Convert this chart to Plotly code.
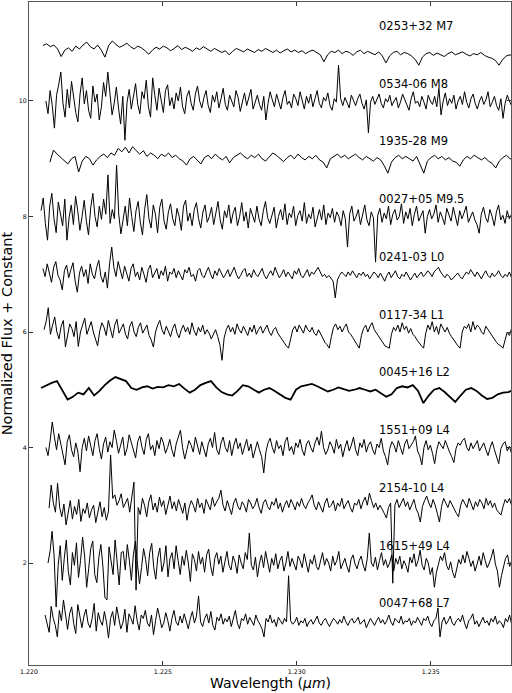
import numpy as np
import plotly.graph_objects as go

# spectra: normalized flux in percent, plotted as flux + constant
names = ['0253+32 M7', '0534-06 M8', '1935-28 M9', '0027+05 M9.5', '0241-03 L0', '0117-34 L1',
         '0045+16 L2', '1551+09 L4', '2154-10 L4', '1615+49 L4', '0047+68 L7']
consts = [10, 9, 8, 7, 6, 5, 4, 3, 2, 1, 0]
wl_start = [1.22052, 1.22063, 1.22078, 1.22045, 1.22052, 1.22056, 1.22045, 1.22063, 1.22075, 1.22071, 1.22060]
wl_end = 1.2381

f0253 = [96, 99, 94, 97, 90, 77, 88, 92, 86, 95, 90, 97, 102, 94, 90, 97, 88, 76, 96, 104,
         98, 93, 96, 100, 94, 90, 95, 92, 87, 81, 88, 93, 90, 95, 92, 87, 91, 96, 89, 93,
         90, 86, 92, 89, 94, 90, 86, 91, 88, 84, 87, 80, 86, 91, 88, 85, 90, 87, 84, 89,
         86, 91, 88, 84, 88, 83, 87, 90, 85, 88, 84, 87, 82, 86, 88, 84, 80, 68, 80, 86,
         84, 88, 82, 86, 84, 79, 85, 88, 82, 86, 83, 80, 85, 78, 66, 78, 84, 86, 80, 84,
         82, 78, 72, 62, 76, 82, 84, 79, 83, 80, 77, 82, 85, 80, 83, 85, 81, 78, 82, 80,
         84, 79, 76, 74, 70, 62, 72, 78, 80, 76]
f0534 = [100, 78, 118, 92, 53, 110, 128, 150, 96, 72, 120, 88, 134, 102, 80, 64, 112, 140, 95, 118,
         84, 70, 126, 98, 112, 67, 90, 132, 108, 150, 118, 76, 96, 124, 88, 60, 108, 32, 98, 120,
         86, 112, 130, 94, 78, 116, 104, 136, 90, 72, 140, 110, 84, 122, 98, 80, 118, 128, 92, 106,
         86, 114, 100, 124, 90, 78, 108, 118, 96, 84, 112, 126, 100, 88, 106, 118, 92, 80, 110, 98,
         116, 88, 104, 122, 94, 84, 110, 100, 90, 118, 106, 82, 98, 114, 92, 104, 120, 86, 100, 110,
         94, 84, 108, 67, 96, 116, 102, 90, 112, 98, 86, 106, 118, 94, 100, 88, 112, 104, 92, 116,
         100, 86, 108, 96, 112, 90, 104, 118, 96, 88, 106, 100, 114, 92, 84, 104, 98, 162, 104, 92,
         106, 96, 88, 110, 100, 92, 104, 112, 96, 86, 102, 45, 98, 108, 94, 102, 112, 96, 88, 104,
         98, 110, 92, 100, 106, 88, 98, 112, 102, 94, 84, 104, 116, 96, 100, 90, 108, 98, 86, 110,
         100, 94, 108, 90, 122, 76, 100, 114, 92, 104, 96, 110, 86, 100, 108, 94, 116, 98, 88, 104,
         112, 96, 86, 100, 108, 94, 102, 116, 90, 98, 108, 92, 84, 104, 70, 96, 110, 100, 92, 102]
f1935 = [94, 115, 108, 102, 97, 91, 100, 104, 77, 96, 104, 100, 89, 98, 104, 108, 102, 110, 106, 118,
         112, 120, 110, 121, 114, 108, 114, 104, 110, 106, 100, 108, 104, 110, 102, 106, 100, 96, 89, 100,
         104, 98, 91, 102, 106, 100, 108, 102, 98, 104, 93, 102, 106, 110, 104, 100, 106, 102, 108, 100,
         96, 104, 110, 106, 100, 95, 102, 106, 100, 108, 102, 98, 104, 100, 106, 98, 94, 84, 100, 104,
         108, 102, 106, 100, 104, 108, 102, 98, 104, 100, 96, 102, 98, 88, 75, 94, 102, 106, 100, 104,
         100, 96, 104, 90, 75, 96, 102, 106, 100, 104, 98, 102, 96, 94, 87, 98, 104, 100, 106, 102,
         98, 102, 96, 92, 84, 96, 102, 106, 100, 98]
f0027 = [110, 132, 88, 59, 118, 140, 96, 72, 125, 104, 84, 130, 59, 98, 120, 86, 135, 110, 76, 100,
         128, 92, 68, 115, 140, 100, 82, 118, 95, 130, 104, 172, 88, 112, 96, 189, 104, 70, 92, 118,
         84, 132, 100, 74, 110, 126, 90, 68, 112, 138, 96, 80, 120, 104, 72, 116, 130, 92, 78, 108,
         122, 96, 84, 114, 100, 76, 118, 128, 92, 106, 84, 112, 124, 96, 80, 108, 120, 90, 100, 116,
         86, 104, 126, 94, 78, 110, 98, 120, 88, 106, 116, 84, 100, 124, 92, 108, 80, 114, 100, 90,
         118, 96, 84, 110, 126, 98, 88, 104, 116, 80, 100, 112, 94, 122, 86, 106, 98, 118, 84, 102,
         110, 92, 124, 88, 104, 96, 116, 82, 100, 112, 94, 120, 86, 106, 98, 114, 90, 108, 100, 84,
         110, 96, 47, 104, 118, 92, 100, 112, 86, 106, 120, 94, 84, 108, 98, 21, 102, 114, 90, 106,
         96, 118, 86, 104, 112, 94, 100, 122, 88, 108, 96, 114, 84, 104, 118, 92, 102, 110, 71, 100,
         112, 96, 104, 120, 90, 108, 98, 86, 114, 102, 92, 116, 100, 84, 110, 96, 106, 118, 90, 100,
         108, 94, 86, 71, 104, 116, 98, 90, 112, 100, 84, 108, 120, 94, 102, 88, 110, 96, 104, 112]
f0241 = [110, 96, 118, 104, 86, 112, 122, 98, 90, 73, 106, 116, 94, 108, 120, 88, 69, 102, 114, 96,
         108, 84, 118, 100, 92, 112, 124, 96, 86, 104, 76, 118, 147, 112, 96, 122, 104, 92, 114, 100,
         88, 110, 118, 96, 104, 90, 112, 100, 86, 108, 116, 94, 102, 110, 92, 106, 98, 114, 88, 104,
         100, 110, 94, 106, 98, 90, 108, 102, 112, 96, 100, 88, 106, 110, 98, 94, 104, 112, 100, 92,
         106, 98, 110, 102, 94, 100, 108, 96, 104, 112, 100, 92, 98, 106, 110, 96, 102, 94, 108, 100,
         96, 104, 110, 98, 92, 100, 106, 98, 112, 102, 94, 100, 108, 96, 104, 98, 92, 106, 100, 110,
         98, 94, 102, 108, 96, 104, 100, 106, 112, 104, 96, 100, 94, 98, 92, 88, 59, 90, 98, 104,
         100, 96, 104, 98, 106, 100, 94, 102, 98, 104, 96, 100, 92, 98, 104, 100, 94, 102, 96, 88,
         98, 104, 94, 100, 106, 96, 92, 100, 96, 104, 98, 90, 96, 102, 94, 100, 104, 96, 100, 106,
         102, 96, 104, 108, 112, 104, 98, 94, 100, 96, 90, 94, 98, 102, 96, 92, 98, 104, 100, 108,
         102, 96, 104, 98, 92, 100, 106, 98, 94, 102, 96, 100, 106, 98, 94, 100, 96, 104, 94, 98]
f0117 = [104, 118, 142, 96, 112, 126, 100, 88, 110, 120, 74, 98, 114, 106, 92, 118, 75, 100, 112, 124,
         96, 108, 118, 100, 86, 76, 102, 116, 108, 94, 120, 104, 90, 112, 122, 98, 106, 114, 96, 88,
         110, 118, 100, 92, 108, 116, 98, 104, 112, 94, 86, 74, 100, 112, 120, 104, 96, 110, 100, 92,
         106, 114, 98, 90, 104, 112, 100, 108, 96, 116, 102, 94, 108, 100, 112, 96, 104, 98, 88, 96,
         104, 92, 78, 51, 90, 104, 112, 100, 108, 96, 114, 104, 98, 110, 102, 94, 108, 100, 112, 96,
         104, 110, 98, 106, 112, 100, 94, 104, 108, 98, 92, 86, 80, 76, 72, 90, 104, 110, 100, 112,
         106, 98, 112, 104, 100, 108, 98, 94, 104, 96, 88, 82, 78, 72, 92, 108, 114, 104, 110, 100,
         108, 114, 100, 96, 90, 84, 78, 72, 94, 106, 112, 100, 110, 116, 104, 98, 92, 86, 80, 76,
         74, 72, 96, 108, 102, 112, 100, 116, 104, 110, 98, 106, 96, 92, 86, 80, 76, 72, 98, 112,
         104, 118, 100, 110, 96, 114, 106, 100, 108, 98, 92, 86, 80, 76, 72, 100, 110, 106, 114, 100,
         118, 104, 112, 108, 100, 96, 110, 104, 98, 92, 86, 82, 78, 76, 72, 88, 100, 94, 106, 98]
f0045 = [103, 108, 112, 115, 100, 83, 88, 95, 92, 103, 90, 98, 108, 116, 122, 118, 115, 103, 100, 104,
         106, 102, 105, 104, 108, 106, 110, 102, 95, 100, 108, 112, 115, 104, 96, 92, 90, 98, 108, 106,
         100, 95, 100, 103, 98, 92, 86, 83, 100, 106, 108, 110, 106, 102, 97, 100, 104, 101, 98, 100,
         103, 100, 97, 100, 94, 88, 92, 103, 106, 104, 108, 98, 77, 90, 100, 103, 96, 88, 79, 90,
         100, 103, 98, 90, 84, 86, 92, 95, 96, 100]
f1551 = [100, 86, 112, 144, 118, 96, 124, 104, 88, 70, 110, 122, 96, 84, 108, 92, 58, 100, 116, 94,
         120, 104, 86, 112, 124, 98, 80, 106, 118, 92, 110, 100, 130, 112, 90, 104, 118, 86, 98, 122,
         108, 94, 82, 110, 120, 100, 88, 114, 124, 96, 104, 86, 112, 98, 118, 108, 90, 100, 114, 96,
         84, 106, 118, 130, 100, 80, 96, 112, 104, 92, 118, 100, 88, 110, 98, 84, 106, 116, 100, 126,
         96, 88, 108, 118, 100, 92, 112, 86, 104, 116, 98, 108, 88, 100, 114, 94, 106, 82, 98, 110,
         96, 84, 56, 92, 108, 116, 100, 90, 112, 98, 104, 86, 110, 118, 94, 102, 88, 108, 100, 114,
         96, 86, 106, 112, 100, 92, 108, 118, 104, 128, 100, 88, 96, 110, 102, 90, 114, 98, 106, 84,
         100, 112, 94, 104, 118, 96, 86, 108, 100, 114, 92, 104, 110, 96, 88, 106, 100, 116, 94, 84,
         70, 98, 110, 104, 92, 112, 100, 88, 106, 114, 98, 104, 110, 120, 94, 86, 70, 100, 112, 96,
         104, 90, 72, 96, 110, 104, 98, 112, 100, 92, 84, 74, 98, 108, 104, 112, 116, 100, 94, 108,
         98, 104, 112, 94, 100, 108, 96, 86, 100, 110, 96, 84, 72, 98, 106, 110, 94, 102, 90, 100]
f2154 = [95, 135, 104, 88, 138, 96, 80, 102, 66, 90, 108, 76, 98, 84, 110, 72, 94, 86, 104, 78,
         92, 100, 70, 88, 106, 80, 96, 74, 90, 187, 112, 118, 100, 108, 120, 96, 104, 112, 88, 118,
         140, -47, 96, 84, 112, 100, 80, 106, 118, 92, 104, 88, 114, 98, 108, 84, 100, 116, 94, 106,
         90, 110, 98, 86, 104, 74, 96, 108, 100, 88, 112, 96, 104, 86, 110, 100, 92, 114, 98, 106,
         112, 126, 100, 90, 108, 96, 84, 104, 112, 98, 92, 106, 100, 88, 110, 104, 94, 100, 112, 96,
         86, 104, 110, 98, 92, 106, 100, 112, 94, 104, 88, 100, 108, 96, 110, 102, 92, 106, 98, 112,
         100, 94, 104, 110, 118, 100, 92, 106, 98, 88, 104, 112, 96, 100, 108, 90, 104, 98, 112, 94,
         102, 108, 96, 88, 104, 100, 110, 94, 106, 114, 100, 121, 108, 96, 104, 92, 100, 94, 86, 78,
         96, 104, -35, 100, 110, 96, 104, 112, 98, 106, 92, 100, 110, 94, 86, 71, 98, 108, 116, 104,
         96, 110, 100, 86, 71, 98, 112, 104, 96, 108, 100, 92, 86, 80, 100, 110, 104, 96, 112, 100,
         92, 106, 98, 110, 104, 94, 112, 100, 108, 96, 104, 92, 88, 83, 98, 110, 104, 112, 100, 108]
f1615 = [100, 120, 155, 112, 24, 96, 130, 70, 108, 140, 85, 62, 118, 96, 135, 75, 104, 145, 112, 58,
         90, 125, 138, 80, 66, 110, 132, 94, 40, 36, 128, 106, 80, 140, 95, 62, 118, 120, 88, 132,
         104, 70, 115, 138, 98, 64, 92, 125, 106, 78, 118, 134, 92, 72, 110, 126, 85, 100, 130, 76,
         108, 118, 90, 130, 104, 80, 112, 96, 122, 100, 68, 116, 106, 86, 120, 98, 110, 84, 114, 124,
         94, 78, 108, 118, 98, 112, 84, 104, 120, 96, 88, 112, 102, 82, 114, 100, 90, 118, 106, 152,
         96, 88, 110, 76, 100, 114, 92, 120, 100, 84, 108, 96, 116, 90, 104, 112, 86, 100, 120, 94,
         108, 98, 88, 112, 104, 92, 116, 100, 84, 106, 98, 114, 94, 88, 104, 118, 96, 108, 100, 86,
         112, 96, 104, 120, 90, 100, 108, 94, 84, 106, 114, 98, 90, 104, 112, 96, 86, 108, 152, 100,
         94, 110, 88, 104, 118, 96, 106, 92, 100, 114, 86, 108, 98, 112, 90, 104, 96, 84, 110, 100,
         116, 94, 104, 122, 96, 88, 108, 100, 80, 92, 58, 84, 98, 112, 104, 118, 96, 88, 102, 84,
         74, 92, 106, 98, 114, 100, 120, 108, 94, 104, 86, 98, 112, 96, 118, 104, 92, 100, 110, 124,
         98, 86, 58, 78, 96, 108, 114, 94, 104, 118]
f0047 = [110, 92, 80, 125, 104, 92, 72, 118, 100, 136, 108, 85, 112, 124, 95, 78, 128, 104, 88, 108,
         120, 96, 88, 104, 130, 82, 114, 100, 92, 116, 98, 70, 104, 116, 92, 124, 108, 86, 96, 120,
         80, 112, 104, 94, 126, 100, 84, 110, 104, 118, 96, 90, 110, 76, 100, 122, 106, 88, 96, 114,
         100, 82, 104, 118, 98, 92, 108, 96, 112, 100, 86, 104, 116, 96, 108, 143, 98, 90, 104, 112,
         96, 116, 92, 84, 106, 100, 112, 94, 104, 98, 108, 90, 102, 118, 96, 86, 104, 100, 112, 94,
         106, 98, 92, 110, 100, 94, 86, 72, 104, 98, 110, 96, 102, 90, 106, 100, 94, 104, 98, 178,
         100, 94, 98, 106, 92, 100, 96, 104, 90, 98, 102, 94, 100, 108, 96, 92, 100, 104, 96, 90,
         98, 104, 100, 94, 102, 96, 108, 98, 92, 100, 104, 96, 100, 106, 94, 98, 102, 88, 96, 104,
         98, 92, 100, 106, 96, 102, 94, 100, 110, 98, 92, 104, 100, 96, 108, 94, 100, 98, 104, 92,
         100, 96, 106, 98, 92, 104, 100, 108, 96, 90, 100, 104, 122, 72, 98, 106, 94, 100, 108, 96,
         92, 100, 104, 98, 110, 96, 86, 100, 104, 112, 94, 100, 90, 98, 106, 96, 100, 92, 104, 98,
         108, 94, 100, 96, 88, 104, 98, 110, 94, 100]
fluxes = [f0253, f0534, f1935, f0027, f0241, f0117, f0045, f1551, f2154, f1615, f0047]

fig = go.Figure()
for name, c, w0, f in zip(names, consts, wl_start, fluxes):
    wl = np.linspace(w0, wl_end, len(f))
    lw = 1.8 if name == '0045+16 L2' else 1.0
    fig.add_trace(go.Scatter(x=wl, y=np.array(f) / 100 + c, mode='lines', name=name,
                             line=dict(color='black', width=lw), showlegend=False))
    fig.add_annotation(x=1.233, y=c + 1.3, text=name, showarrow=False, xanchor='left', yanchor='middle',
                       font=dict(family='DejaVu Sans', size=11.5, color='black'))

ax = dict(showgrid=False, zeroline=False, showline=True, linecolor='#555', linewidth=1, mirror='ticks',
          ticks='inside', ticklen=4, tickcolor='#333', tickfont=dict(family='DejaVu Sans', size=6.3, color='black'))
fig.update_layout(
    width=512, height=693, margin=dict(l=29, r=1, t=2, b=28),
    paper_bgcolor='white', plot_bgcolor='white',
    xaxis=dict(range=[1.220, 1.238], tickvals=[1.220, 1.225, 1.230, 1.235], tickformat='.3f', **ax),
    yaxis=dict(range=[0.234, 11.714], tickvals=[2, 4, 6, 8, 10], **ax),
)
fig.add_annotation(x=0.5, y=-0.027, xref='paper', yref='paper', text='Wavelength (<i>μm</i>)', showarrow=False,
                   yanchor='middle', font=dict(family='DejaVu Sans', size=14, color='black'))
fig.add_annotation(x=-0.046, y=0.5, xref='paper', yref='paper', text='Normalized Flux + Constant', showarrow=False,
                   textangle=-90, xanchor='center', font=dict(family='DejaVu Sans', size=14.5, color='black'))
fig.write_html('out.html', config={'displayModeBar': False},
               post_script="document.body.style.margin='0px';")
